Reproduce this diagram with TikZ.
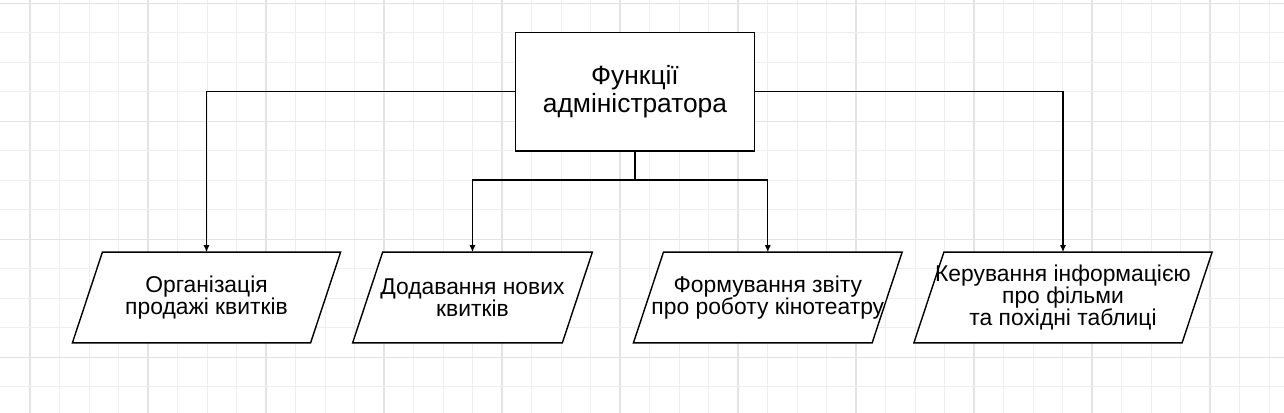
\documentclass[tikz,border=0pt]{standalone}
\usepackage{fontspec}
\setmainfont{Liberation Sans}
\usetikzlibrary{arrows.meta,backgrounds}

\definecolor{gridminor}{HTML}{EEEEEE}
\definecolor{gridmajor}{HTML}{E3E3E3}

\tikzset{
	boss/.style={draw,fill=white,line width=0.8pt,minimum width=4.77cm,minimum height=2.374cm,align=center,font=\fontsize{15}{15.8}\selectfont},
	task/.style={minimum width=#1,minimum height=1.8cm,inner sep=0pt,align=center,font=\fontsize{13}{12.6}\selectfont},
	slanted/.style={draw,fill=white,line width=0.8pt},
	link/.style={-{Latex[length=4pt,width=3.5pt]},line width=0.7pt}
}

\begin{document}
\begin{tikzpicture}
		\useasboundingbox (0,0) rectangle (25.68,8.26);
		
		% grid
		\begin{scope}[on background layer]
		\fill[white] (0,0) rectangle (25.68,8.26);
		\foreach \i in {0,...,42}{
			\pgfmathsetmacro{\gx}{0.6+0.59*\i}
			\ifnum\numexpr\i-4*(\i/4)\relax=0
				\draw[gridmajor,line width=0.7pt] (\gx,0) -- (\gx,8.26);
			\else
				\draw[gridminor,line width=0.55pt] (\gx,0) -- (\gx,8.26);
			\fi
		}
		\foreach \j in {0,...,13}{
			\pgfmathsetmacro{\gy}{8.194-0.59*\j}
			\ifnum\numexpr\j-4*(\j/4)\relax=0
				\draw[gridmajor,line width=0.7pt] (0,\gy) -- (25.68,\gy);
			\else
				\draw[gridminor,line width=0.55pt] (0,\gy) -- (25.68,\gy);
			\fi
		}
		\end{scope}
		
		\node[boss] (f) at (12.70,6.426) {Функції\\адміністратора};
		
		\node[task=4.75cm] (p1) at (4.13,2.31) {Організація\\продажі квитків};
		\node[task=4.18cm] (p2) at (9.45,2.31) {Додавання нових\\квитків};
		\node[task=4.76cm] (p3) at (15.356,2.31) {Формування звіту\\про роботу кінотеатру};
		\node[task=5.35cm] (p4) at (21.26,2.31) {Керування інформацією\\про фільми\\та похідні таблиці};
		
		% parallelogram outlines
		\begin{scope}[on background layer]
		\foreach \n in {p1,p2,p3,p4}
			\draw[slanted] ([xshift=-0.3cm]\n.south west) -- ([xshift=-0.3cm]\n.south east)
				-- ([xshift=0.3cm]\n.north east) -- ([xshift=0.3cm]\n.north west) -- cycle;
		\end{scope}
		
		\coordinate (hub) at (12.70,4.66);
		
		\draw[link] (f) -| (p1);
		\draw[link] (f) -| (p4);
		\draw[link] (f) -- (hub) -| (p2);
		\draw[link] (hub) -| (p3);
		\end{tikzpicture}
\end{document}
